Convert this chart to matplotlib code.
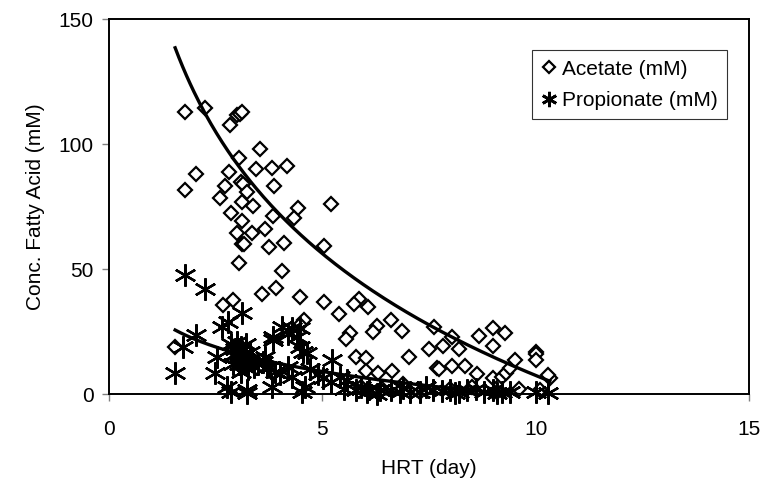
import matplotlib
matplotlib.use("Agg")
import matplotlib.pyplot as plt
import numpy as np

plt.rcParams['font.family'] = ['Liberation Sans', 'DejaVu Sans']

# acetate (mM) vs HRT (day)
acetate_x = [1.78, 2.26, 3.0, 3.06, 3.12, 2.84, 3.55, 3.04, 2.05, 2.82, 3.44, 3.81, 4.16,
             3.1, 3.15, 2.73, 3.87, 1.79, 3.24, 2.6, 3.11, 3.38, 4.42, 5.2, 2.86, 3.84,
             4.34, 3.12, 2.99, 3.34, 3.66, 3.11, 3.17, 3.76, 4.09, 5.03, 3.05, 4.05, 3.91,
             3.59, 4.48, 5.04, 5.38, 5.85, 5.74, 6.08, 6.61, 6.27, 6.19, 6.87, 5.65, 5.55,
             7.03, 5.78, 6.02, 6.02, 6.3, 6.63, 2.91, 2.68, 1.55, 4.57, 4.47, 7.62, 7.51,
             7.68, 7.82, 8.03, 8.21, 7.74, 8.03, 8.34, 8.63, 8.68, 9.01, 9.28, 9.01, 9.01,
             9.2, 9.3, 9.4, 9.51, 10.0, 10.0, 10.0, 10.33, 10.29,
             5.9, 6.4, 6.9, 7.3, 8.0, 8.5, 9.1, 9.6, 10.1]
acetate_y = [113, 114.5, 111.5, 112, 113, 107.6, 98, 94.5, 88, 89, 90, 90.5, 91.2,
             85, 84, 83.3, 83.3, 81.6, 81, 78.5, 77, 75.2, 74.5, 76, 72.5, 71.2,
             70.3, 69.3, 64.5, 64.5, 65.9, 60, 60, 58.7, 60.3, 59.3, 52.5, 49.3, 42.5,
             39.9, 38.9, 36.9, 31.9, 38, 36, 34.7, 29.6, 27.2, 24.9, 25.3, 24.5, 21.9,
             14.9, 14.9, 14.3, 9.2, 8.5, 9.3, 37.6, 35.6, 18.9, 29.6, 27.6, 27, 17.9,
             10.3, 19.3, 22.9, 18, 9.9, 11.3, 11.3, 8, 23.2, 26.3, 24.5, 19.3, 6.3,
             7, 8.3, 10.3, 13.6, 16.9, 16, 13.6, 6.5, 7.6,
             3, 2, 4, 1, 2, 3, 1, 2, 1.5]

# propionate (mM) vs HRT (day)
propionate_x = [1.78, 2.25, 3.11, 2.8, 2.64, 2.05, 1.74, 1.55, 4.05, 4.28, 4.48, 4.2, 4.4,
                3.85, 3.85, 4.48, 4.55, 4.63, 5.22, 5.02, 5.41, 5.57, 4.52, 3.23, 2.87,
                3.81, 2.76, 3.23, 2.52, 2.48,
                2.85, 2.95, 3.0, 3.05, 3.1, 3.15, 3.2, 3.25, 3.3, 3.35, 3.0, 3.1, 2.9,
                3.2, 3.4, 2.95, 3.05, 3.15,
                3.6, 3.7, 3.77, 3.9, 3.65, 3.5, 4.0, 4.2, 4.3,
                4.7, 4.9, 5.2, 4.6,
                5.8, 6.04, 6.27, 6.82, 7.05, 5.9, 6.1, 6.35, 6.6, 7.3, 7.44, 7.6, 7.8,
                8.0, 8.2, 8.4, 8.6, 8.8, 9.0, 9.2, 9.4, 10.0, 10.3, 5.5, 6.9, 8.1, 9.1]
propionate_y = [47.6, 41.9, 32.3, 28.9, 26.9, 23.6, 18.9, 8.3, 26.9, 26.3, 26.3, 24, 23,
                22.9, 21.6, 18.9, 16.8, 16.3, 13.6, 6.3, 7, 5.6, 1, 0.3, 0.9,
                2.9, 2.9, 1.6, 14.9, 8.3,
                20, 18, 15, 12, 19, 16, 13, 10, 17, 14, 21, 9, 12,
                20, 11, 16, 17, 14,
                13, 11, 10.9, 9, 15, 12, 8, 11, 7,
                10, 8, 5, 3,
                1.6, 0.9, 0, 0.9, 0.9, 3, 2, 1.6, 1.6, 1, 2.9, 1.5, 1.2,
                1.5, 1, 1.5, 2, 1, 1.5, 1, 0.8, 0.8, 0.5, 2, 2.5, 0.5, 0.5]

# logarithmic trendlines y = a + b*ln(x)
acetate_fit = (169.3, -70.3)
propionate_fit = (31.8, -14.16)

fs = 15

fig = plt.figure(figsize=(7.65, 4.88), dpi=100)
ax = fig.add_axes([0.1425, 0.1926, 0.8366, 0.7684])

ax.plot(acetate_x, acetate_y, linestyle='none', marker='D', ms=7.5, mfc='white',
        mec='black', mew=1.6, label='Acetate (mM)', clip_on=False, zorder=3)
ax.plot(propionate_x, propionate_y, linestyle='none', marker=(6, 2, 0), ms=16,
        mec='black', mew=1.7, label='Propionate (mM)', clip_on=False, zorder=4)

xa = np.linspace(min(acetate_x), max(acetate_x), 200)
ax.plot(xa, acetate_fit[0] + acetate_fit[1] * np.log(xa), color='black', lw=2.4, zorder=5)
xp = np.linspace(min(propionate_x), max(propionate_x), 200)
ax.plot(xp, propionate_fit[0] + propionate_fit[1] * np.log(xp), color='black', lw=2.4, zorder=5)

ax.set_xlim(0, 15)
ax.set_ylim(0, 150)
ax.set_xticks([0, 5, 10, 15])
ax.set_yticks([0, 50, 100, 150])
ax.tick_params(direction='out', length=5, width=1, color='#808080', labelsize=fs)
ax.tick_params(axis='x', pad=14)
ax.tick_params(axis='y', pad=6)
for s in ax.spines.values():
    s.set_linewidth(1.4)
    s.set_color('black')

ax.set_xlabel('HRT (day)', fontsize=fs, labelpad=14)
ax.set_ylabel('Conc. Fatty Acid (mM)', fontsize=fs, labelpad=10)

leg = ax.legend(loc='upper right', bbox_to_anchor=(0.966, 0.917), fontsize=fs,
                frameon=True, fancybox=False, edgecolor='black', handlelength=0.7,
                handletextpad=0.3, borderpad=0.45, labelspacing=0.6, numpoints=1,
                borderaxespad=0)
leg.get_frame().set_linewidth(0.8)
leg.legend_handles[0].set_markersize(6.5)
leg.legend_handles[1].set_markersize(11)
leg.legend_handles[1].set_markeredgewidth(2)

fig.savefig('out.png', dpi=100)
